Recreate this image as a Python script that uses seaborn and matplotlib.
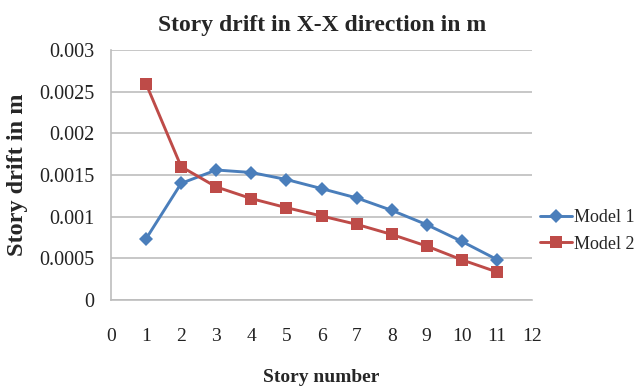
import matplotlib
matplotlib.use("Agg")
import matplotlib.pyplot as plt
from matplotlib.lines import Line2D
import seaborn as sns
import pandas as pd

stories = [1, 2, 3, 4, 5, 6, 7, 8, 9, 10, 11]
model1 = [0.000735, 0.00140, 0.00156, 0.00153, 0.001446, 0.001337,
          0.001225, 0.001076, 0.000904, 0.000703, 0.000486]
model2 = [0.002594, 0.00160, 0.001357, 0.001217, 0.001108, 0.001008,
          0.000908, 0.000787, 0.000647, 0.000482, 0.000337]
series_names = ["Model 1", "Model 2"]
x_ticks = list(range(0, 13))
y_ticks = [0, 0.0005, 0.001, 0.0015, 0.002, 0.0025, 0.003]
y_tick_labels = ["0", "0.0005", "0.001", "0.0015", "0.002", "0.0025", "0.003"]

df = pd.DataFrame({
    "Story": stories * 2,
    "Drift": model1 + model2,
    "Model": [series_names[0]] * len(stories) + [series_names[1]] * len(stories),
})

sns.set_theme(style="white")
plt.rcParams["font.family"] = ["Liberation Serif", "DejaVu Serif"]

fig = plt.figure(figsize=(6.43, 3.87), dpi=100)
ax = fig.add_axes([111 / 643, 1 - 300 / 387, (532 - 111) / 643, (300 - 50) / 387])

palette = {"Model 1": "#4A7EBB", "Model 2": "#BE4B48"}
markers = {"Model 1": "D", "Model 2": "s"}
sizes = {"Model 1": 7, "Model 2": 8}
for name in series_names:
    sub = df[df["Model"] == name]
    sns.lineplot(data=sub, x="Story", y="Drift", color=palette[name],
                 marker=markers[name], markersize=sizes[name],
                 markeredgewidth=0, linewidth=2.1, ax=ax, legend=False)

ax.set_xlim(0, 12)
ax.set_ylim(0, 0.003)
ax.set_xticks(x_ticks)
ax.set_xticklabels([str(t) for t in x_ticks], fontsize=14, color="#222222")
ax.set_yticks(y_ticks)
ax.set_yticklabels(y_tick_labels, fontsize=14.5, color="#222222")
ax.tick_params(axis="y", length=0, pad=12)
ax.tick_params(axis="x", length=0, pad=20)
ax.yaxis.grid(True, color="#bdbdbd", linewidth=1.2)
ax.xaxis.grid(False)
for side in ["top", "right"]:
    ax.spines[side].set_visible(False)
for side in ["left", "bottom"]:
    ax.spines[side].set_color("#bdbdbd")
    ax.spines[side].set_linewidth(1.2)

ax.set_xlabel("")
ax.set_ylabel("")
fig.text(322 / 643, 1 - 25 / 387, "Story drift in X-X direction in m",
         ha="center", va="center", fontsize=17, fontweight="bold")
fig.text(18 / 643, 1 - 175 / 387, "Story drift in m", rotation=90,
         ha="center", va="center", fontsize=17.5, fontweight="bold")
fig.text(321 / 643, 1 - 377 / 387, "Story number",
         ha="center", va="center", fontsize=14, fontweight="bold")

handles = [Line2D([0], [0], color=palette[n], marker=markers[n],
                  markersize=sizes[n], markeredgewidth=0, linewidth=2.1)
           for n in series_names]
fig.legend(handles, series_names, loc="center left",
           bbox_to_anchor=(540 / 643, 1 - 231 / 387), frameon=False,
           fontsize=13, handlelength=1.75, handletextpad=0.15,
           labelspacing=0.5, borderpad=0, borderaxespad=0)

fig.savefig("out.png", dpi=100)
